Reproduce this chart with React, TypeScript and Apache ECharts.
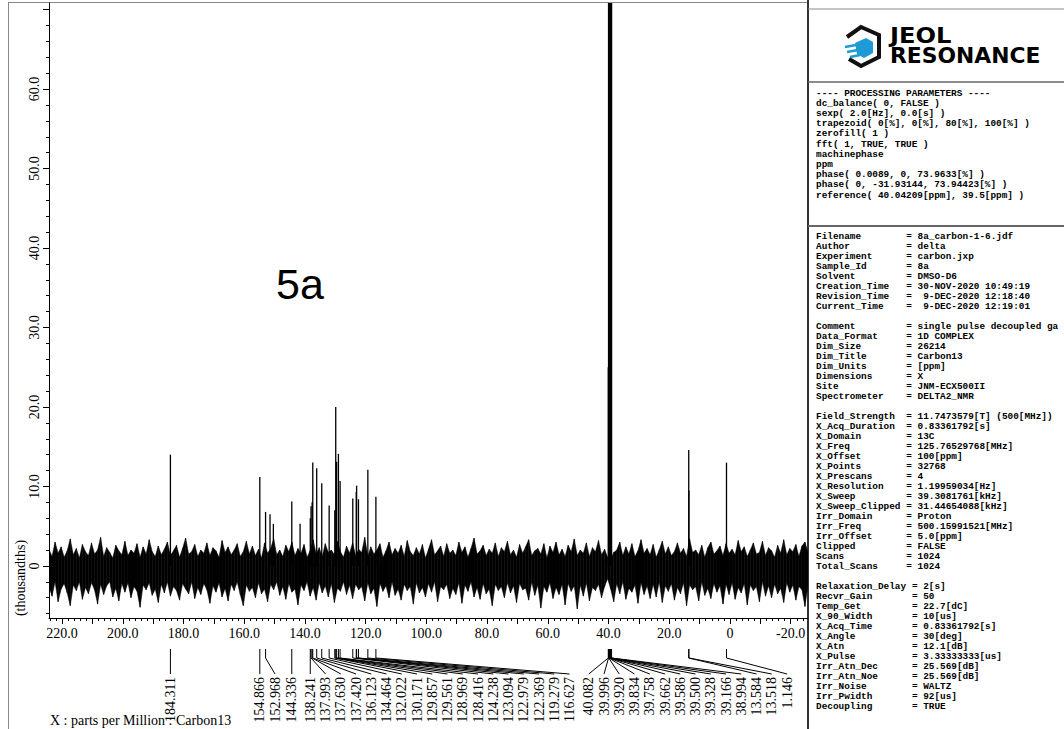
import React, { useEffect, useRef } from 'react';
import * as echarts from 'echarts';

// ---------- data ----------
const peakPpm = [184.311, 154.866, 152.968, 144.336, 138.241, 137.993, 137.630, 137.420, 136.123, 134.464,
  132.022, 130.171, 129.857, 129.561, 128.969, 128.416, 124.238, 123.094, 122.979, 122.369, 119.279, 116.627,
  40.082, 39.996, 39.920, 39.834, 39.758, 39.662, 39.586, 39.500, 39.328, 39.166, 38.994, 13.584, 13.518, 1.146];
const peakHeight = [14.0, 11.2, 6.8, 8.1, 6.0, 7.5, 8.0, 13.0, 12.3, 10.4,
  7.6, 7.0, 20.0, 13.1, 14.1, 10.7, 8.5, 9.3, 10.1, 8.4, 12.1, 8.7,
  25, 90, 30, 270, 40, 540, 40, 630, 540, 270, 90, 14.6, 9.5, 13.0];
const extraPeakPpm = [151.5, 150.4, 141.6];
const extraPeakHeight = [6.5, 5.3, 5.3];

const NOISE_START = 224.3;
const NOISE_STEP = 1;
const noiseHigh = [
  2.1,1.2,3.0,1.6,2.4,1.1,1.9,3.4,1.4,2.2,1.0,2.7,1.8,1.3,2.9,1.5,2.0,3.6,1.2,2.3,1.7,1.0,2.6,1.9,1.4,
  3.1,1.3,2.0,1.6,2.8,1.1,2.4,1.5,3.3,1.8,1.2,2.5,1.4,2.1,3.0,1.3,1.9,2.6,1.1,2.2,3.5,1.5,1.8,2.7,1.2,
  2.0,1.6,2.9,1.3,2.3,1.9,1.1,3.2,1.7,2.4,1.4,2.0,2.8,1.2,1.8,3.1,1.5,2.5,1.3,2.1,1.0,2.9,1.6,2.2,3.4,
  1.4,2.0,1.2,2.6,1.8,3.0,1.3,2.2,1.6,2.7,1.1,1.9,3.3,1.5,2.3,1.2,2.8,1.7,2.0,1.4,3.1,1.8,1.1,2.5,1.6,
  2.9,1.3,2.1,1.7,3.6,1.2,2.4,1.5,2.0,2.8,1.1,1.9,3.0,1.4,2.2,1.6,2.6,1.2,3.2,1.8,1.3,2.3,1.5,2.7,1.0,
  2.1,3.3,1.4,1.9,2.5,1.2,2.8,1.6,2.0,1.3,3.0,1.7,2.4,1.1,2.2,3.5,1.5,1.9,2.6,1.3,2.1,1.6,2.9,1.2,2.3,
  1.8,3.1,1.4,2.0,1.1,2.7,1.6,2.4,3.3,1.3,1.9,2.2,1.5,2.8,1.0,2.5,1.7,3.0,1.4,2.1,1.2,2.6,1.8,3.4,1.3,
  2.0,1.6,2.9,1.2,2.3,1.8,3.2,1.4,2.1,1.1,0.9,1.7,2.0,3.0,1.3,2.4,1.5,2.8,1.2,1.9,3.3,1.6,2.2,1.4,2.7,
  1.1,2.0,3.1,1.5,2.4,1.3,1.8,2.9,1.6,2.2,1.2,3.4,1.7,2.0,1.4,2.6,1.1,2.3,3.0,1.5,1.9,2.5,1.3,2.8,1.6,
  2.1,1.4,3.2,1.8,2.4,1.2,2.0,2.9,1.5,1.7,3.1,1.3,2.3,1.9,1.1,2.6,1.6,3.3,1.4,2.2,1.8,2.7,1.2,2.5,3.0,
  1.7];
const noiseLow = [
  -2.6,-3.8,-2.0,-4.5,-2.9,-2.2,-3.4,-5.0,-2.4,-3.1,-2.0,-4.2,-2.7,-3.5,-2.1,-3.0,-4.8,-2.3,-3.6,-2.5,-2.0,-3.9,-2.8,-4.4,-2.2,
  -3.3,-2.1,-4.0,-2.6,-3.2,-5.2,-2.4,-3.0,-2.1,-3.7,-2.9,-4.6,-2.3,-3.4,-2.0,-3.8,-2.6,-3.1,-4.3,-2.2,-2.9,-3.5,-2.0,-4.1,-2.7,
  -3.6,-2.2,-3.0,-4.7,-2.5,-3.3,-2.1,-3.9,-2.8,-4.4,-2.3,-3.1,-2.0,-3.6,-5.0,-2.4,-3.2,-2.7,-4.0,-2.1,-3.5,-2.9,-4.5,-2.3,-3.0,
  -2.0,-3.7,-2.6,-4.2,-2.2,-3.3,-2.9,-4.9,-2.4,-3.1,-2.0,-3.8,-2.7,-4.3,-2.1,-3.4,-2.5,-3.9,-2.2,-4.6,-2.8,-3.2,-2.0,-3.6,-2.4,
  -4.1,-2.3,-3.0,-2.6,-4.4,-2.1,-3.5,-2.8,-5.1,-2.2,-3.2,-2.5,-4.0,-2.0,-3.7,-2.9,-4.3,-2.3,-3.1,-2.6,-4.8,-2.1,-3.4,-2.7,-3.9,
  -2.2,-3.3,-2.0,-4.5,-2.6,-3.0,-2.3,-4.1,-2.8,-3.6,-2.1,-4.7,-2.4,-3.2,-2.0,-3.9,-2.7,-4.2,-2.2,-3.5,-2.9,-5.0,-2.3,-3.1,-2.6,
  -4.0,-2.1,-3.4,-2.5,-4.6,-2.2,-3.0,-2.8,-4.3,-2.0,-3.7,-2.4,-5.3,-2.6,-3.3,-2.1,-4.1,-2.7,-3.6,-2.3,-4.9,-2.2,-3.2,-2.5,-5.4,
  -2.4,-3.8,-2.1,-4.4,-2.7,-3.1,-2.3,-4.0,-2.6,-1.6,-2.9,-4.5,-2.2,-3.5,-2.0,-4.2,-2.8,-3.3,-2.4,-4.7,-2.1,-3.6,-2.5,-4.1,-2.3,
  -3.9,-2.0,-4.6,-2.5,-3.2,-2.2,-4.3,-2.7,-3.5,-2.1,-5.0,-2.4,-3.0,-2.6,-4.4,-2.0,-3.7,-2.8,-4.1,-2.2,-3.3,-2.5,-4.8,-2.3,-3.6,
  -2.1,-4.2,-2.7,-3.4,-2.2,-4.9,-2.4,-3.1,-2.6,-4.5,-2.0,-3.8,-2.5,-4.0,-2.3,-3.5,-2.8,-4.6,-2.1,-3.3,-2.4,-4.3,-2.6,-3.0,-5.1,
  -2.4];

const xLabelValues = [220, 200, 180, 160, 140, 120, 100, 80, 60, 40, 20, 0, -20];
const xMajorTicks = [220, 210, 200, 190, 180, 170, 160, 150, 140, 130, 120, 110, 100, 90, 80, 70, 60, 50, 40, 30, 20, 10, 0, -10, -20];
const yLabelValues = [0, 10, 20, 30, 40, 50, 60];
const yMajorTicks = [0, 10, 20, 30, 40, 50, 60, 70];

const processingLines = [
  '---- PROCESSING PARAMETERS ----',
  'dc_balance( 0, FALSE )',
  'sexp( 2.0[Hz], 0.0[s] )',
  'trapezoid( 0[%], 0[%], 80[%], 100[%] )',
  'zerofill( 1 )',
  'fft( 1, TRUE, TRUE )',
  'machinephase',
  'ppm',
  'phase( 0.0089, 0, 73.9633[%] )',
  'phase( 0, -31.93144, 73.94423[%] )',
  'reference( 40.04209[ppm], 39.5[ppm] )',
];

const paramNames = ['Filename', 'Author', 'Experiment', 'Sample_Id', 'Solvent', 'Creation_Time', 'Revision_Time', 'Current_Time', '',
  'Comment', 'Data_Format', 'Dim_Size', 'Dim_Title', 'Dim_Units', 'Dimensions', 'Site', 'Spectrometer', '',
  'Field_Strength', 'X_Acq_Duration', 'X_Domain', 'X_Freq', 'X_Offset', 'X_Points', 'X_Prescans', 'X_Resolution', 'X_Sweep',
  'X_Sweep_Clipped', 'Irr_Domain', 'Irr_Freq', 'Irr_Offset', 'Clipped', 'Scans', 'Total_Scans', '',
  'Relaxation_Delay', 'Recvr_Gain', 'Temp_Get', 'X_90_Width', 'X_Acq_Time', 'X_Angle', 'X_Atn', 'X_Pulse',
  'Irr_Atn_Dec', 'Irr_Atn_Noe', 'Irr_Noise', 'Irr_Pwidth', 'Decoupling'];
const paramValues = ['8a_carbon-1-6.jdf', 'delta', 'carbon.jxp', '8a', 'DMSO-D6', '30-NOV-2020 10:49:19', ' 9-DEC-2020 12:18:40', ' 9-DEC-2020 12:19:01', '',
  'single pulse decoupled ga', '1D COMPLEX', '26214', 'Carbon13', '[ppm]', 'X', 'JNM-ECX500II', 'DELTA2_NMR', '',
  '11.7473579[T] (500[MHz])', '0.83361792[s]', '13C', '125.76529768[MHz]', '100[ppm]', '32768', '4', '1.19959034[Hz]', '39.3081761[kHz]',
  '31.44654088[kHz]', 'Proton', '500.15991521[MHz]', '5.0[ppm]', 'FALSE', '1024', '1024', '',
  '2[s]', '50', '22.7[dC]', '10[us]', '0.83361792[s]', '30[deg]', '12.1[dB]', '3.33333333[us]',
  '25.569[dB]', '25.569[dB]', 'WALTZ', '92[us]', 'TRUE'];

// ---------- layout ----------
const X_MIN = -25.7, X_MAX = 224.3, Y_MIN = -6.55, Y_MAX = 70.83;
const GRID_LEFT = 49, GRID_TOP = 3, PLOT_RIGHT = 808, PLOT_BOTTOM = 618;
const W = 1064, H = 729;
const SERIF = 'Liberation Serif';
const MONO = 'Liberation Mono';

export default function App() {
  const ref = useRef<HTMLDivElement>(null);
  useEffect(() => {
    if (!ref.current) return;
    const chart = echarts.init(ref.current, undefined, { renderer: 'svg' });

    const xMinor: number[] = [];
    for (let v = -24; v <= 224; v += 2) if (v % 10 !== 0) xMinor.push(v);
    const yMinor: number[] = [];
    for (let v = -6; v <= 70; v += 2) if (v % 10 !== 0) yMinor.push(v);

    const nNoise = noiseHigh.length;
    const noiseData = noiseHigh.map((h, i) => [NOISE_START - i * NOISE_STEP, h, noiseLow[i]]);

    const peakRender = (params: any, api: any) => {
      const x = api.value(0), h = api.value(1);
      const p0 = api.coord([x, 0]);
      const p1 = api.coord([x, Math.min(h, Y_MAX)]);
      return { type: 'line', shape: { x1: p0[0], y1: p0[1], x2: p1[0], y2: p1[1] }, style: { stroke: '#000', lineWidth: 1.3 } };
    };

    const option: any = {
      animation: false,
      grid: { left: GRID_LEFT, top: GRID_TOP, width: PLOT_RIGHT - GRID_LEFT, height: PLOT_BOTTOM - GRID_TOP, show: false },
      xAxis: [
        {
          type: 'value', min: X_MIN, max: X_MAX, inverse: true, position: 'bottom',
          axisLine: { show: true, onZero: false, lineStyle: { color: '#000', width: 1 } },
          splitLine: { show: false },
          axisTick: { show: true, customValues: xMajorTicks, length: 6, lineStyle: { color: '#000' } },
          axisLabel: {
            customValues: xLabelValues, fontFamily: SERIF, fontSize: 14, color: '#000', margin: 8,
            formatter: (v: number) => (v === 0 ? '0' : v.toFixed(1)),
          },
        },
        {
          type: 'value', min: X_MIN, max: X_MAX, inverse: true, position: 'bottom',
          axisLine: { show: false, onZero: false }, splitLine: { show: false },
          axisTick: { show: true, customValues: xMinor, length: 3, lineStyle: { color: '#000' } },
          axisLabel: { show: false },
        },
      ],
      yAxis: [
        {
          type: 'value', min: Y_MIN, max: Y_MAX, position: 'left',
          axisLine: { show: true, onZero: false, lineStyle: { color: '#000', width: 1 } },
          splitLine: { show: false },
          axisTick: { show: true, customValues: yMajorTicks, length: 6, lineStyle: { color: '#000' } },
          axisLabel: {
            customValues: yLabelValues, rotate: 90, fontFamily: SERIF, fontSize: 14, color: '#000', margin: 8,
            formatter: (v: number) => (v === 0 ? '0' : v.toFixed(1)),
          },
        },
        {
          type: 'value', min: Y_MIN, max: Y_MAX, position: 'left',
          axisLine: { show: false, onZero: false }, splitLine: { show: false },
          axisTick: { show: true, customValues: yMinor, length: 3, lineStyle: { color: '#000' } },
          axisLabel: { show: false },
        },
      ],
      series: [
        {
          type: 'custom', name: 'noise', clip: true, xAxisIndex: 0, yAxisIndex: 0,
          encode: { x: 0, y: [1, 2] },
          data: noiseData,
          renderItem: (params: any, api: any) => {
            const i = params.dataIndex;
            if (i >= nNoise - 1) return null;
            const x0 = api.value(0), h0 = api.value(1), l0 = api.value(2);
            const x1 = NOISE_START - (i + 1) * NOISE_STEP;
            const pts = [api.coord([x0, h0]), api.coord([x1, noiseHigh[i + 1]]), api.coord([x1, noiseLow[i + 1]]), api.coord([x0, l0])];
            return { type: 'polygon', shape: { points: pts }, style: { fill: '#000', stroke: '#000', lineWidth: 0.5 } };
          },
        },
        {
          type: 'custom', name: 'peaks', clip: true, xAxisIndex: 0, yAxisIndex: 0,
          encode: { x: 0, y: 1 },
          data: peakPpm.map((p, i) => [p, peakHeight[i]]),
          renderItem: peakRender,
        },
        {
          type: 'custom', name: 'minor peaks', clip: true, xAxisIndex: 0, yAxisIndex: 0,
          encode: { x: 0, y: 1 },
          data: extraPeakPpm.map((p, i) => [p, extraPeakHeight[i]]),
          renderItem: peakRender,
        },
      ],
    };
    chart.setOption(option);

    // ---------- graphics: frame, panel, annotations ----------
    const g: any[] = [];
    const line = (x1: number, y1: number, x2: number, y2: number, stroke = '#000', lineWidth = 1) =>
      g.push({ type: 'line', silent: true, shape: { x1, y1, x2, y2 }, style: { stroke, lineWidth } });
    const text = (x: number, y: number, t: string, style: any, extra: any = {}) =>
      g.push({ type: 'text', silent: true, x, y, style: { text: t, fill: '#000', ...style }, ...extra });

    // frame
    line(8.5, 3, 8.5, H, '#888', 1);
    line(8, 2.5, PLOT_RIGHT, 2.5, '#888', 1);
    line(PLOT_RIGHT, 0, PLOT_RIGHT, H, '#333', 2);
    line(PLOT_RIGHT, 9, W, 9, '#888', 1);
    line(PLOT_RIGHT, 82, W, 82, '#666', 1.5);
    line(PLOT_RIGHT, 226, W, 226, '#666', 2);

    // logo
    g.push({ type: 'polyline', silent: true, shape: { points: [[847, 37], [861, 27], [879, 35], [879, 57], [861, 66], [849, 59]] },
      style: { stroke: '#111', lineWidth: 4, fill: null, lineJoin: 'miter' } });
    g.push({ type: 'polygon', silent: true, shape: { points: [[855, 43], [866, 38], [873, 42], [873, 53], [864, 58], [857, 54]] },
      style: { fill: '#1e9ad6' } });
    line(845, 47, 856, 45, '#1e9ad6', 2.5);
    line(847, 52, 858, 50, '#1e9ad6', 2.5);
    line(850, 57, 860, 55, '#1e9ad6', 2.5);
    text(890, 36, 'JEOL', { font: 'bold 21px "DejaVu Sans"', verticalAlign: 'middle', align: 'left' }, { scaleX: 1.15 });
    text(890, 56, 'RESONANCE', { font: 'bold 21px "DejaVu Sans"', verticalAlign: 'middle', align: 'left' }, { scaleX: 1.04 });

    // processing parameters
    const CW = 5.64;
    const monoFont = `bold 9.4px "${MONO}"`;
    processingLines.forEach((t, i) => text(816, 93 + i * 10.2, t, { font: monoFont, verticalAlign: 'middle' }));
    let block = 0;
    paramNames.forEach((n, i) => {
      const y = 236 + i * 10.02;
      if (n === '') { block++; return; }
      const eqX = 816 + (block >= 3 ? 17 : 16) * CW;
      text(816, y, n, { font: monoFont, verticalAlign: 'middle' });
      text(eqX, y, '=', { font: monoFont, verticalAlign: 'middle' });
      const v = paramValues[i];
      const lead = v.length - v.trimStart().length;
      text(eqX + (2 + lead) * CW, y, v.trimStart(), { font: monoFont, verticalAlign: 'middle' });
    });

    // title & axis names
    text(276, 284, '5a', { font: '43px "Liberation Sans"', verticalAlign: 'middle', align: 'left' });
    text(20, 578, '(thousandths)', { font: `14px "${SERIF}"`, verticalAlign: 'middle', align: 'center' }, { rotation: Math.PI / 2 });
    text(50, 713, 'X : parts per Million : Carbon13', { font: `14px "${SERIF}"`, verticalAlign: 'top', align: 'left' });

    // peak annotations
    const desired = peakPpm.map((p) => chart.convertToPixel({ xAxisIndex: 0 }, p) as number);
    const S = 15.25;
    const pos = desired.slice();
    for (let i = 1; i < pos.length; i++) pos[i] = Math.max(desired[i], pos[i - 1] + S);
    pos[pos.length - 1] = Math.min(pos[pos.length - 1], PLOT_RIGHT - 21);
    for (let i = pos.length - 2; i >= 0; i--) pos[i] = Math.min(pos[i], pos[i + 1] - S);
    peakPpm.forEach((p, i) => {
      const dx = desired[i];
      g.push({ type: 'polyline', silent: true, shape: { points: [[dx, 649], [dx, 658], [pos[i], 674]] },
        style: { stroke: '#000', lineWidth: 1, fill: null } });
      text(pos[i], 677, p.toFixed(3), { font: `14px "${SERIF}"`, verticalAlign: 'middle', align: 'right' }, { rotation: Math.PI / 2 });
    });

    chart.setOption({ graphic: g });
    return () => chart.dispose();
  }, []);

  return <div ref={ref} style={{ position: 'fixed', left: 0, top: 0, width: W, height: H, background: '#fff' }} />;
}
